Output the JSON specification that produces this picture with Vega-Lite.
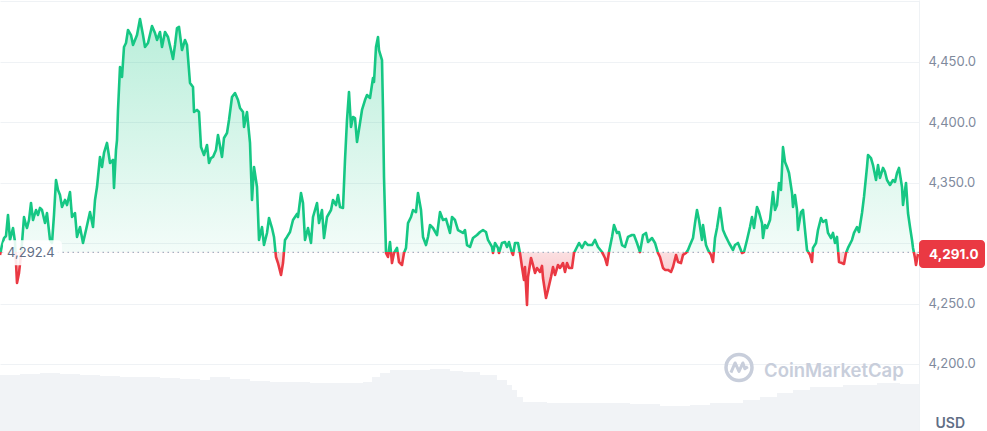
{
"$schema": "https://vega.github.io/schema/vega-lite/v6.json",
"width": 919,
"height": 431,
"autosize": {"type": "none"},
"padding": {"left": 0, "top": 0, "right": 68, "bottom": 0},
"background": "white",
"config": {"view": {"stroke": null}, "font": "Inter"},
"datasets": {
"price": [
{"t":0,"price":4290.2},{"t":2,"price":4298.4},{"t":4,"price":4304.2},{"t":6,"price":4305.9},{"t":8,"price":4323.3},{"t":10,"price":4302.6},{"t":12,"price":4309.2},{"t":13,"price":4312.5},{"t":15,"price":4300.9},{"t":17,"price":4267.0},{"t":19,"price":4275.3},{"t":21,"price":4290.2},{"t":22,"price":4300.1},{"t":24,"price":4321.6},{"t":26,"price":4315.0},{"t":27,"price":4312.5},{"t":29,"price":4319.1},{"t":31,"price":4333.2},{"t":33,"price":4319.1},{"t":36,"price":4327.4},{"t":38,"price":4323.3},{"t":40,"price":4329.1},{"t":42,"price":4327.4},{"t":45,"price":4316.6},{"t":47,"price":4324.9},{"t":50,"price":4302.6},{"t":52,"price":4300.1},{"t":54,"price":4323.3},{"t":56,"price":4352.2},{"t":58,"price":4344.0},{"t":60,"price":4339.8},{"t":62,"price":4329.9},{"t":65,"price":4335.7},{"t":67,"price":4331.5},{"t":70,"price":4342.3},{"t":72,"price":4321.6},{"t":75,"price":4324.9},{"t":77,"price":4305.1},{"t":80,"price":4313.3},{"t":83,"price":4300.1},{"t":86,"price":4310.8},{"t":90,"price":4325.7},{"t":93,"price":4313.3},{"t":95,"price":4335.7},{"t":97,"price":4346.4},{"t":100,"price":4371.3},{"t":102,"price":4363.0},{"t":104,"price":4374.6},{"t":107,"price":4382.9},{"t":110,"price":4366.3},{"t":113,"price":4368.8},{"t":114,"price":4345.6},{"t":116,"price":4377.1},{"t":117,"price":4385.3},{"t":118,"price":4410.2},{"t":120,"price":4445.8},{"t":122,"price":4437.5},{"t":124,"price":4462.3},{"t":126,"price":4465.6},{"t":128,"price":4476.4},{"t":131,"price":4472.2},{"t":133,"price":4464.0},{"t":137,"price":4472.2},{"t":140,"price":4485.5},{"t":143,"price":4472.2},{"t":145,"price":4462.3},{"t":148,"price":4465.6},{"t":152,"price":4479.7},{"t":155,"price":4473.9},{"t":157,"price":4468.1},{"t":160,"price":4474.7},{"t":162,"price":4462.3},{"t":165,"price":4474.7},{"t":168,"price":4470.6},{"t":171,"price":4459.8},{"t":173,"price":4452.4},{"t":175,"price":4464.0},{"t":177,"price":4478.0},{"t":179,"price":4478.9},{"t":182,"price":4459.8},{"t":185,"price":4468.1},{"t":187,"price":4464.0},{"t":190,"price":4432.5},{"t":193,"price":4429.2},{"t":194,"price":4408.5},{"t":197,"price":4410.2},{"t":199,"price":4408.5},{"t":201,"price":4379.5},{"t":204,"price":4372.9},{"t":207,"price":4381.2},{"t":209,"price":4366.3},{"t":211,"price":4370.4},{"t":213,"price":4371.3},{"t":216,"price":4377.1},{"t":218,"price":4389.5},{"t":222,"price":4371.3},{"t":224,"price":4387.0},{"t":227,"price":4391.1},{"t":229,"price":4401.9},{"t":232,"price":4420.9},{"t":235,"price":4424.2},{"t":238,"price":4418.4},{"t":240,"price":4411.8},{"t":243,"price":4408.5},{"t":244,"price":4396.1},{"t":247,"price":4408.5},{"t":250,"price":4382.9},{"t":252,"price":4335.7},{"t":254,"price":4363.0},{"t":257,"price":4346.4},{"t":259,"price":4302.6},{"t":262,"price":4313.3},{"t":264,"price":4298.4},{"t":267,"price":4308.4},{"t":269,"price":4320.8},{"t":272,"price":4312.5},{"t":274,"price":4305.1},{"t":276,"price":4288.5},{"t":278,"price":4283.5},{"t":281,"price":4273.6},{"t":283,"price":4283.5},{"t":285,"price":4302.6},{"t":287,"price":4305.1},{"t":290,"price":4309.2},{"t":293,"price":4319.1},{"t":297,"price":4324.1},{"t":298,"price":4321.6},{"t":301,"price":4341.5},{"t":303,"price":4333.2},{"t":305,"price":4302.6},{"t":308,"price":4312.5},{"t":311,"price":4300.1},{"t":313,"price":4321.6},{"t":317,"price":4333.2},{"t":319,"price":4316.6},{"t":322,"price":4327.4},{"t":324,"price":4304.2},{"t":327,"price":4321.6},{"t":331,"price":4327.4},{"t":333,"price":4335.7},{"t":336,"price":4331.5},{"t":338,"price":4339.8},{"t":340,"price":4329.9},{"t":343,"price":4329.1},{"t":345,"price":4368.8},{"t":347,"price":4401.9},{"t":349,"price":4425.1},{"t":351,"price":4396.1},{"t":353,"price":4404.4},{"t":355,"price":4403.5},{"t":357,"price":4383.7},{"t":360,"price":4399.4},{"t":362,"price":4410.2},{"t":365,"price":4418.4},{"t":367,"price":4422.6},{"t":370,"price":4420.1},{"t":373,"price":4436.6},{"t":374,"price":4433.3},{"t":376,"price":4462.3},{"t":378,"price":4470.6},{"t":379,"price":4459.8},{"t":382,"price":4451.5},{"t":383,"price":4410.2},{"t":384,"price":4354.7},{"t":386,"price":4291.8},{"t":388,"price":4288.5},{"t":390,"price":4300.9},{"t":392,"price":4283.5},{"t":394,"price":4291.8},{"t":397,"price":4296.0},{"t":399,"price":4284.4},{"t":402,"price":4281.9},{"t":404,"price":4291.8},{"t":406,"price":4296.0},{"t":408,"price":4316.6},{"t":411,"price":4321.6},{"t":413,"price":4327.4},{"t":416,"price":4325.7},{"t":418,"price":4341.5},{"t":421,"price":4327.4},{"t":423,"price":4305.1},{"t":426,"price":4298.4},{"t":428,"price":4305.1},{"t":430,"price":4315.0},{"t":433,"price":4312.5},{"t":437,"price":4306.7},{"t":440,"price":4325.7},{"t":443,"price":4319.1},{"t":446,"price":4320.0},{"t":450,"price":4308.4},{"t":452,"price":4321.6},{"t":455,"price":4319.1},{"t":458,"price":4310.8},{"t":463,"price":4308.4},{"t":465,"price":4310.8},{"t":467,"price":4298.4},{"t":470,"price":4296.8},{"t":473,"price":4304.2},{"t":477,"price":4306.7},{"t":480,"price":4309.2},{"t":483,"price":4310.8},{"t":486,"price":4309.2},{"t":488,"price":4302.6},{"t":492,"price":4296.8},{"t":493,"price":4291.8},{"t":495,"price":4300.1},{"t":498,"price":4296.0},{"t":499,"price":4291.8},{"t":502,"price":4300.1},{"t":505,"price":4300.9},{"t":507,"price":4296.8},{"t":509,"price":4300.9},{"t":512,"price":4291.8},{"t":513,"price":4290.2},{"t":515,"price":4300.1},{"t":518,"price":4300.1},{"t":520,"price":4291.8},{"t":522,"price":4280.2},{"t":524,"price":4269.5},{"t":525,"price":4280.2},{"t":527,"price":4248.8},{"t":528,"price":4272.0},{"t":531,"price":4287.7},{"t":533,"price":4281.9},{"t":535,"price":4275.3},{"t":537,"price":4279.4},{"t":540,"price":4276.1},{"t":542,"price":4281.1},{"t":543,"price":4271.1},{"t":546,"price":4254.6},{"t":548,"price":4261.2},{"t":551,"price":4272.0},{"t":553,"price":4280.2},{"t":555,"price":4273.6},{"t":558,"price":4281.9},{"t":560,"price":4279.4},{"t":563,"price":4283.5},{"t":565,"price":4276.1},{"t":567,"price":4283.5},{"t":569,"price":4279.4},{"t":572,"price":4279.4},{"t":574,"price":4291.8},{"t":577,"price":4296.8},{"t":579,"price":4300.1},{"t":582,"price":4296.0},{"t":585,"price":4300.9},{"t":588,"price":4298.4},{"t":592,"price":4298.4},{"t":595,"price":4302.6},{"t":598,"price":4296.8},{"t":602,"price":4292.6},{"t":605,"price":4287.7},{"t":607,"price":4281.9},{"t":609,"price":4292.6},{"t":612,"price":4305.1},{"t":614,"price":4315.0},{"t":617,"price":4308.4},{"t":619,"price":4309.2},{"t":622,"price":4298.4},{"t":625,"price":4296.8},{"t":628,"price":4305.1},{"t":632,"price":4306.7},{"t":634,"price":4306.7},{"t":637,"price":4300.1},{"t":640,"price":4292.6},{"t":643,"price":4306.7},{"t":646,"price":4308.4},{"t":648,"price":4300.9},{"t":652,"price":4304.2},{"t":655,"price":4300.1},{"t":658,"price":4291.8},{"t":660,"price":4288.5},{"t":663,"price":4279.4},{"t":665,"price":4277.8},{"t":668,"price":4277.8},{"t":671,"price":4276.1},{"t":673,"price":4280.2},{"t":676,"price":4290.2},{"t":678,"price":4284.4},{"t":681,"price":4283.5},{"t":683,"price":4290.2},{"t":686,"price":4291.8},{"t":688,"price":4294.3},{"t":690,"price":4298.4},{"t":693,"price":4304.2},{"t":695,"price":4316.6},{"t":697,"price":4327.4},{"t":699,"price":4319.1},{"t":702,"price":4302.6},{"t":703,"price":4315.0},{"t":706,"price":4298.4},{"t":708,"price":4294.3},{"t":711,"price":4290.2},{"t":713,"price":4284.4},{"t":715,"price":4304.2},{"t":717,"price":4312.5},{"t":720,"price":4329.1},{"t":723,"price":4310.8},{"t":726,"price":4305.1},{"t":729,"price":4300.1},{"t":733,"price":4294.3},{"t":735,"price":4298.4},{"t":738,"price":4300.1},{"t":742,"price":4291.8},{"t":744,"price":4292.6},{"t":747,"price":4302.6},{"t":750,"price":4313.3},{"t":752,"price":4321.6},{"t":754,"price":4312.5},{"t":757,"price":4329.9},{"t":759,"price":4325.7},{"t":762,"price":4316.6},{"t":763,"price":4304.2},{"t":765,"price":4315.0},{"t":767,"price":4312.5},{"t":770,"price":4319.1},{"t":773,"price":4342.3},{"t":775,"price":4327.4},{"t":777,"price":4331.5},{"t":779,"price":4349.8},{"t":781,"price":4344.0},{"t":783,"price":4379.5},{"t":785,"price":4367.1},{"t":787,"price":4363.0},{"t":789,"price":4358.0},{"t":792,"price":4341.5},{"t":793,"price":4329.9},{"t":795,"price":4339.8},{"t":797,"price":4327.4},{"t":798,"price":4310.8},{"t":801,"price":4325.7},{"t":803,"price":4327.4},{"t":805,"price":4310.8},{"t":807,"price":4294.3},{"t":810,"price":4290.2},{"t":812,"price":4284.4},{"t":813,"price":4296.0},{"t":816,"price":4300.1},{"t":818,"price":4310.8},{"t":821,"price":4320.8},{"t":823,"price":4317.5},{"t":826,"price":4319.1},{"t":828,"price":4308.4},{"t":831,"price":4304.2},{"t":833,"price":4308.4},{"t":835,"price":4300.1},{"t":837,"price":4305.1},{"t":839,"price":4284.4},{"t":842,"price":4283.5},{"t":844,"price":4282.7},{"t":846,"price":4291.8},{"t":848,"price":4296.0},{"t":852,"price":4302.6},{"t":854,"price":4308.4},{"t":857,"price":4313.3},{"t":859,"price":4309.2},{"t":862,"price":4324.9},{"t":864,"price":4338.2},{"t":867,"price":4363.0},{"t":868,"price":4372.9},{"t":871,"price":4370.4},{"t":873,"price":4364.6},{"t":876,"price":4352.2},{"t":878,"price":4364.6},{"t":880,"price":4353.9},{"t":883,"price":4362.2},{"t":885,"price":4358.9},{"t":887,"price":4352.2},{"t":890,"price":4348.1},{"t":893,"price":4352.2},{"t":895,"price":4350.6},{"t":897,"price":4358.0},{"t":899,"price":4362.2},{"t":902,"price":4346.4},{"t":903,"price":4331.5},{"t":906,"price":4349.8},{"t":908,"price":4324.9},{"t":910,"price":4313.3},{"t":912,"price":4302.6},{"t":913,"price":4296.0},{"t":915,"price":4287.7},{"t":916,"price":4281.9},{"t":918,"price":4291.0}
],
"volume": [
{"t":0,"vol":56},{"t":20,"vol":57},{"t":40,"vol":58},{"t":60,"vol":57},{"t":80,"vol":56},{"t":100,"vol":55},{"t":120,"vol":54},{"t":140,"vol":54},{"t":160,"vol":53},{"t":180,"vol":52},{"t":200,"vol":51},{"t":210,"vol":54},{"t":230,"vol":52},{"t":250,"vol":50},{"t":270,"vol":49},{"t":290,"vol":49},{"t":310,"vol":48},{"t":330,"vol":48},{"t":350,"vol":48},{"t":363,"vol":49},{"t":372,"vol":54},{"t":380,"vol":58},{"t":390,"vol":61},{"t":410,"vol":61},{"t":430,"vol":62},{"t":450,"vol":60},{"t":463,"vol":59},{"t":480,"vol":56},{"t":497,"vol":51},{"t":507,"vol":46},{"t":512,"vol":41},{"t":517,"vol":34},{"t":523,"vol":29},{"t":547,"vol":28},{"t":570,"vol":28},{"t":597,"vol":28},{"t":630,"vol":27},{"t":660,"vol":25},{"t":690,"vol":26},{"t":710,"vol":28},{"t":743,"vol":31},{"t":760,"vol":34},{"t":777,"vol":38},{"t":793,"vol":41},{"t":810,"vol":44},{"t":843,"vol":46},{"t":877,"vol":48},{"t":900,"vol":47},{"t":919,"vol":46}
],
"open": [{"t": 0, "price": 4292.4}],
"last": [{"t": 918, "price": 4291.0}],
"brand": [{"t": 764, "price": 4189.2, "name": "CoinMarketCap"}]
},
"layer": [
{
"data": {"name": "volume"},
"mark": {"type": "area", "interpolate": "step-after", "color": "#f1f3f6"},
"encoding": {
"x": {"field": "t", "type": "quantitative", "scale": {"domain": [0, 919], "nice": false, "zero": false}, "axis": null},
"y": {"field": "vol", "type": "quantitative", "scale": {"domain": [0, 431], "nice": false}, "axis": null}
}
},
{
"encoding": {
"x": {"field": "t", "type": "quantitative", "scale": {"domain": [0, 919], "nice": false, "zero": false}, "axis": null},
"y": {"field": "price", "type": "quantitative", "scale": {"domain": [4144.5, 4501.2], "nice": false, "zero": false},
"axis": {"orient": "right", "values": [4200, 4250, 4300, 4350, 4400, 4450, 4500],
"labelExpr": "datum.value == 4300 || datum.value == 4500 ? '' : format(datum.value, ',.1f')",
"grid": true, "gridColor": "#eff2f5", "domain": true, "domainColor": "#eff2f5", "ticks": false,
"labelPadding": 9, "labelFont": "Inter", "labelFontSize": 13, "labelColor": "#808a9d", "labelOverlap": false,
"title": "USD", "titleAngle": 0, "titleAlign": "left", "titleBaseline": "alphabetic", "titleX": 16, "titleY": 427,
"titleFont": "Inter", "titleFontSize": 14, "titleFontWeight": 600, "titleColor": "#616e85"}}
},
"layer": [
{
"data": {"name": "price"},
"mark": {"type": "area", "fill": {"gradient": "linear", "x1": 0, "y1": 0, "x2": 0, "y2": 1, "stops": [
{"offset": 0, "color": "rgba(22,199,132,0.30)"},
{"offset": 0.8158, "color": "rgba(22,199,132,0.05)"},
{"offset": 0.8158, "color": "rgba(234,57,67,0.16)"},
{"offset": 1, "color": "rgba(234,57,67,0.38)"}]}},
"encoding": {"y2": {"datum": 4292.4}}
},
{
"data": {"name": "open"},
"mark": {"type": "rule", "color": "#a7b1c2", "strokeDash": [1.5, 3.5], "strokeWidth": 1.2},
"encoding": {"x": null}
},
{
"data": {"name": "price"},
"mark": {"type": "line", "strokeWidth": 2.6, "strokeJoin": "round", "stroke": {"gradient": "linear", "x1": 0, "y1": 0, "x2": 0, "y2": 1, "stops": [
{"offset": 0, "color": "#16c784"},
{"offset": 0.8158, "color": "#16c784"},
{"offset": 0.8158, "color": "#ea3943"},
{"offset": 1, "color": "#ea3943"}]}},
"encoding": {}
},
{
"data": {"name": "open"},
"mark": {"type": "rect", "fill": "white", "fillOpacity": 0.88, "cornerRadius": 4, "xOffset": 3, "x2Offset": 62, "yOffset": -12, "y2Offset": 13},
"encoding": {"x2": {"field": "t"}, "y2": {"field": "price"}}
},
{
"data": {"name": "open"},
"mark": {"type": "text", "align": "left", "baseline": "middle", "dx": 7, "dy": 1, "fontSize": 13, "color": "#616e85"},
"encoding": {"text": {"field": "price", "type": "quantitative", "format": ",.1f"}}
},
{
"data": {"name": "last"},
"mark": {"type": "rect", "fill": "#ea3943", "cornerRadius": 4, "xOffset": 1, "x2Offset": 67, "yOffset": -14, "y2Offset": 14, "clip": false},
"encoding": {"x2": {"field": "t"}, "y2": {"field": "price"}}
},
{
"data": {"name": "last"},
"mark": {"type": "text", "align": "left", "baseline": "middle", "dx": 11, "dy": 1, "fontSize": 13.5, "fontWeight": 700, "color": "white"},
"encoding": {"text": {"field": "price", "type": "quantitative", "format": ",.1f"}}
},
{
"data": {"name": "brand"},
"mark": {"type": "text", "align": "left", "baseline": "alphabetic", "fontSize": 18.5, "fontWeight": 600, "color": "#c8cedb"},
"encoding": {"text": {"field": "name"}}
},
{
"data": {"name": "brand"},
"mark": {"type": "point", "shape": "circle", "size": 676, "filled": false, "stroke": "#c8cedb", "strokeWidth": 3.5, "opacity": 1, "xOffset": -25, "yOffset": -9.5},
"encoding": {}
},
{
"data": {"name": "brand"},
"mark": {"type": "point", "shape": "M -0.62 0.4 L -0.3 -0.35 L 0 0.3 L 0.3 -0.35 L 0.45 0.1 L 0.68 -0.05", "size": 676, "filled": false, "stroke": "#c8cedb", "strokeWidth": 3, "strokeJoin": "round", "opacity": 1, "xOffset": -25, "yOffset": -9.5},
"encoding": {}
}
]
}
],
"resolve": {"scale": {"y": "independent"}}
}
